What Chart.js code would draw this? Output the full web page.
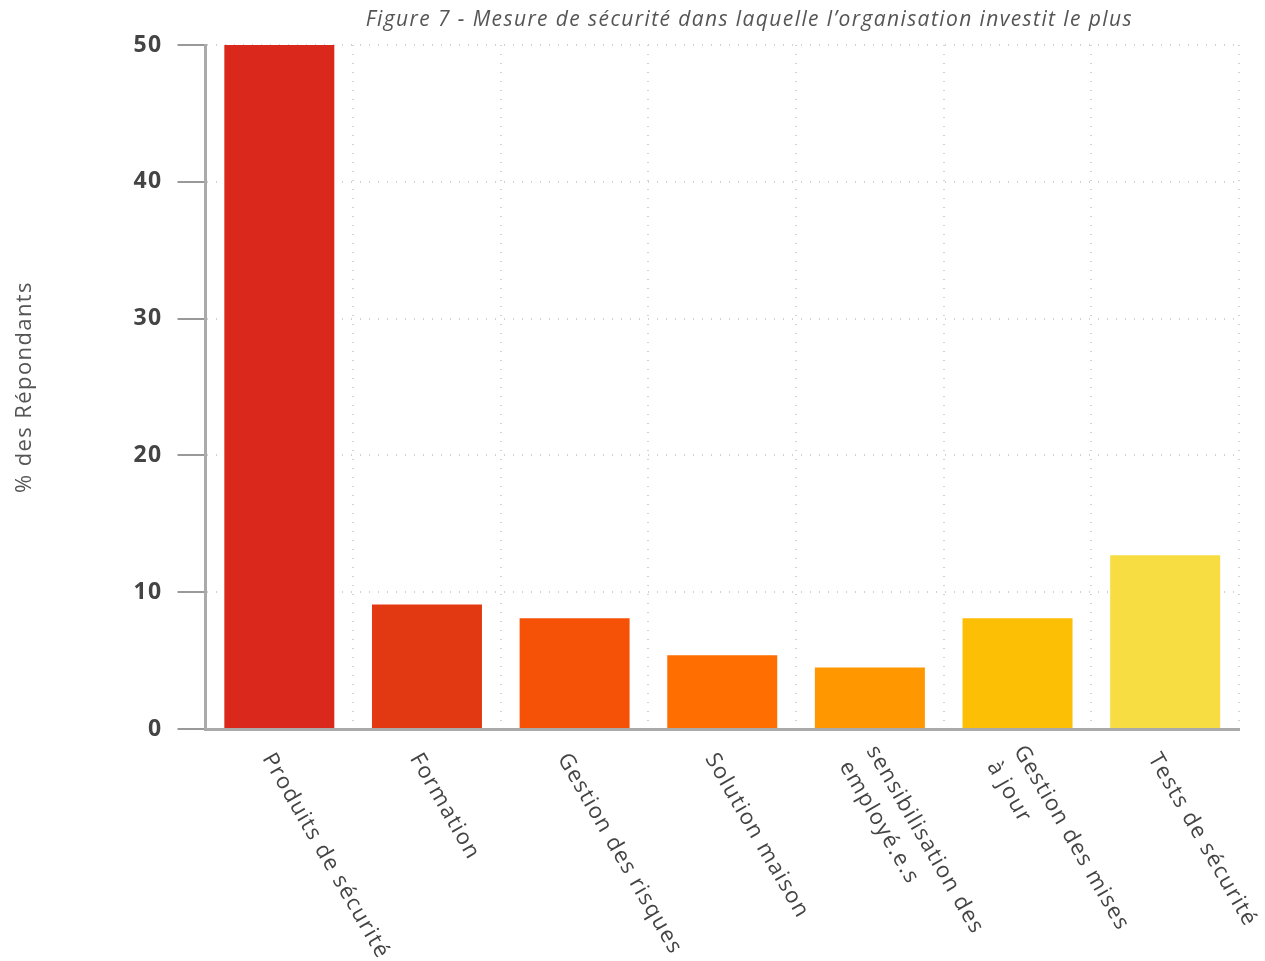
<!DOCTYPE html>
<html>
<head>
<meta charset="utf-8">
<script src="https://cdn.jsdelivr.net/npm/chart.js@4"></script>
<style>
    html, body { margin: 0; padding: 0; background: #fff; }
    #wrap { width: 1265px; height: 961px; }
</style>
</head>
<body>
<div id="wrap"><canvas id="chart"></canvas></div>
<script>
const titleText = 'Figure 7 - Mesure de sécurité dans laquelle l’organisation investit le plus';
const yTitle = '% des Répondants';

// one entry per bar, each split into the lines shown under the axis
const categories = [
    ['Produits de sécurité'],
    ['Formation'],
    ['Gestion des risques'],
    ['Solution maison'],
    ['sensibilisation des', 'employé.e.s'],
    ['Gestion des mises', 'à jour'],
    ['Tests de sécurité']
];
const values = [50, 9.1, 8.1, 5.4, 4.5, 8.1, 12.7];
const barColors = ['#da291c', '#e33912', '#f55207', '#ff6e00', '#ff9800', '#fdbe06', '#f8dd42'];
const yTicks = [0, 10, 20, 30, 40, 50];

const FONT = '"Open Sans", "Noto Sans", sans-serif';
const SPACING = '1.4px';

// the original face is wider than Open Sans, so open up the tracking a bit
const tracking = {
    id: 'tracking',
    beforeUpdate(chart) { chart.ctx.letterSpacing = SPACING; },
    beforeDraw(chart) { chart.ctx.letterSpacing = SPACING; }
};

// figure caption, centred a bit right of the plot like the original
const figureTitle = {
    id: 'figureTitle',
    afterDraw(chart) {
        const { ctx, chartArea } = chart;
        ctx.save();
        ctx.font = 'italic 21px ' + FONT;
        ctx.fillStyle = '#555';
        ctx.textAlign = 'center';
        ctx.textBaseline = 'middle';
        ctx.fillText(titleText, (chartArea.left + chartArea.right) / 2 + 27, 20);
        ctx.restore();
    }
};

// category labels rotated clockwise, starting at the tick and running down-right
const rotatedLabels = {
    id: 'rotatedLabels',
    afterDraw(chart) {
        const x = chart.scales.x;
        const ctx = chart.ctx;
        ctx.save();
        ctx.font = '22px ' + FONT;
        ctx.fillStyle = '#444';
        ctx.textAlign = 'left';
        ctx.textBaseline = 'middle';
        categories.forEach((lines, i) => {
            ctx.save();
            ctx.translate(x.getPixelForValue(i) - 12, x.top + 26);
            ctx.rotate(Math.PI / 3);
            lines.forEach((line, j) => ctx.fillText(line, 0, (j - (lines.length - 1) / 2) * 31));
            ctx.restore();
        });
        ctx.restore();
    }
};

new Chart(document.getElementById('chart'), {
    type: 'bar',
    data: {
        labels: categories.map(c => c.join(' ')),
        datasets: [{
            data: values,
            backgroundColor: barColors,
            borderWidth: 0,
            barPercentage: 0.745,
            categoryPercentage: 1
        }]
    },
    options: {
        responsive: true, maintainAspectRatio: false,
        animation: false,
        devicePixelRatio: 1,
        layout: { padding: { top: 45, right: 26, bottom: 232, left: 0 } },
        plugins: { legend: { display: false }, tooltip: { enabled: false }, title: { display: false } },
        scales: {
            x: {
                ticks: { display: false },
                grid: { display: true, offset: true, drawTicks: false, color: '#d2d2d2', lineWidth: 2 },
                border: { display: true, color: '#aaa', width: 3, dash: [1, 8] }
            },
            y: {
                min: 0, max: 50,
                afterBuildTicks: scale => { scale.ticks = yTicks.map(v => ({ value: v })); },
                ticks: { color: '#444', padding: 15, font: { family: FONT, size: 23, weight: 'bold' } },
                grid: {
                    color: '#d2d2d2', lineWidth: 2,
                    tickLength: 28, tickColor: '#999', tickWidth: 2, tickBorderDash: []
                },
                border: { display: true, color: '#aaa', width: 3, dash: [1, 8] },
                title: {
                    display: true, text: yTitle, color: '#555',
                    font: { family: FONT, size: 22 },
                    padding: { top: 12, bottom: 80 }
                }
            }
        }
    },
    plugins: [tracking, figureTitle, rotatedLabels]
});
</script>
</body>
</html>
